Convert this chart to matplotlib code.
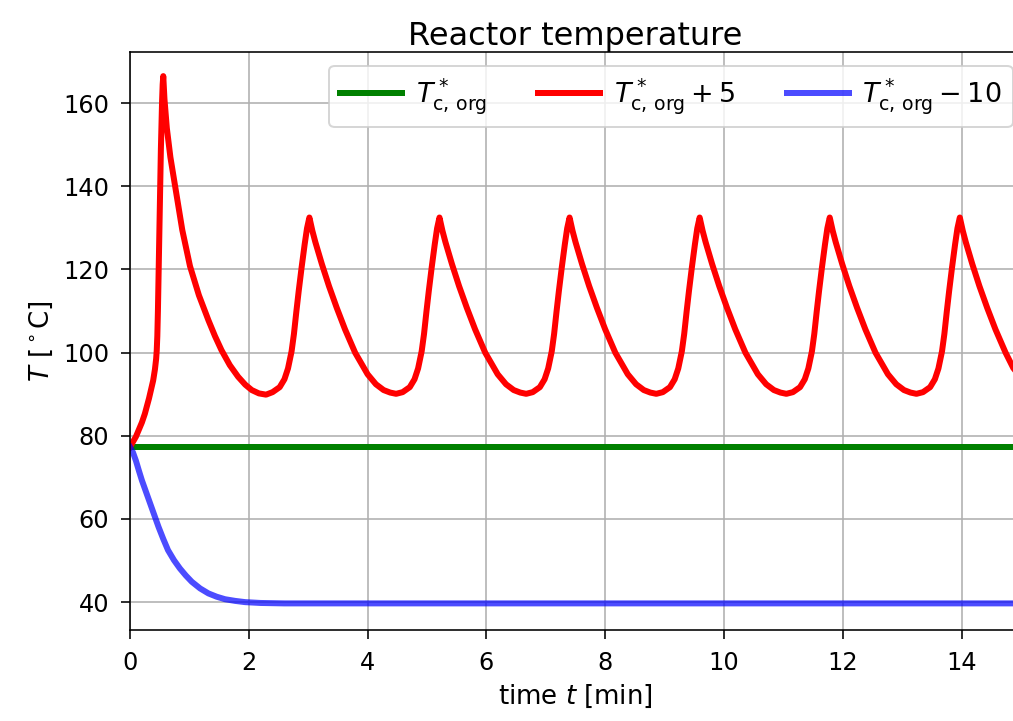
import numpy as np
import matplotlib
matplotlib.use("Agg")
from matplotlib import pyplot as plt

# data
t_red = [0.00, 0.10, 0.20, 0.25, 0.32, 0.36, 0.39, 0.42, 0.44, 0.45, 0.46, 0.47, 0.48, 0.49,
         0.50, 0.51, 0.52, 0.53, 0.54, 0.55, 0.56,
         0.58, 0.62, 0.68, 0.76, 0.88, 1.01, 1.16, 1.32, 1.43, 1.54, 1.68, 1.82, 1.94, 2.05, 2.17, 2.29,
         2.40, 2.52, 2.60, 2.66, 2.72, 2.76, 2.80, 2.84, 2.89, 2.94, 2.98, 3.02,
         3.07, 3.12, 3.23, 3.35, 3.48, 3.62, 3.79, 4.00, 4.14, 4.27, 4.38, 4.48,
         4.59, 4.71, 4.79, 4.85, 4.91, 4.95, 4.99, 5.03, 5.08, 5.13, 5.17, 5.21,
         5.26, 5.31, 5.42, 5.54, 5.67, 5.81, 5.98, 6.19, 6.33, 6.46, 6.57, 6.67,
         6.78, 6.90, 6.98, 7.04, 7.10, 7.14, 7.18, 7.22, 7.27, 7.32, 7.36, 7.40,
         7.45, 7.50, 7.61, 7.73, 7.86, 8.00, 8.17, 8.38, 8.52, 8.65, 8.76, 8.86,
         8.97, 9.09, 9.17, 9.23, 9.29, 9.33, 9.37, 9.41, 9.46, 9.51, 9.55, 9.59,
         9.64, 9.69, 9.80, 9.92, 10.05, 10.19, 10.36, 10.57, 10.71, 10.84, 10.95, 11.05,
         11.16, 11.28, 11.36, 11.42, 11.48, 11.52, 11.56, 11.60, 11.65, 11.70, 11.74, 11.78,
         11.83, 11.88, 11.99, 12.11, 12.24, 12.38, 12.55, 12.76, 12.90, 13.03, 13.14, 13.24,
         13.35, 13.47, 13.55, 13.61, 13.67, 13.71, 13.75, 13.79, 13.84, 13.89, 13.93, 13.97,
         14.02, 14.07, 14.18, 14.30, 14.43, 14.57, 14.74, 14.87, 15.00]
T_red = [77.3, 79.8, 83.2, 85.3, 89.0, 91.5, 93.3, 96.0, 98.5, 100.5, 104.0, 110.0, 118.0, 126.0,
         134.0, 142.0, 149.0, 155.0, 160.5, 164.5, 166.5,
         161.0, 154.0, 147.0, 140.0, 129.5, 120.8, 113.8, 107.8, 104.0, 100.6, 97.0, 94.2, 92.3, 91.0, 90.2, 89.9,
         90.5, 91.7, 93.6, 96.2, 100.3, 104.5, 109.8, 114.8, 120.6, 126.0, 129.9, 132.5,
         129.3, 126.6, 121.3, 116.0, 110.8, 105.6, 100.0, 94.8, 92.4, 91.0, 90.4, 90.1,
         90.5, 91.7, 93.6, 96.2, 100.3, 104.5, 109.8, 114.8, 120.6, 126.0, 129.9, 132.5,
         129.3, 126.6, 121.3, 116.0, 110.8, 105.6, 100.0, 94.8, 92.4, 91.0, 90.4, 90.1,
         90.5, 91.7, 93.6, 96.2, 100.3, 104.5, 109.8, 114.8, 120.6, 126.0, 129.9, 132.5,
         129.3, 126.6, 121.3, 116.0, 110.8, 105.6, 100.0, 94.8, 92.4, 91.0, 90.4, 90.1,
         90.5, 91.7, 93.6, 96.2, 100.3, 104.5, 109.8, 114.8, 120.6, 126.0, 129.9, 132.5,
         129.3, 126.6, 121.3, 116.0, 110.8, 105.6, 100.0, 94.8, 92.4, 91.0, 90.4, 90.1,
         90.5, 91.7, 93.6, 96.2, 100.3, 104.5, 109.8, 114.8, 120.6, 126.0, 129.9, 132.5,
         129.3, 126.6, 121.3, 116.0, 110.8, 105.6, 100.0, 94.8, 92.4, 91.0, 90.4, 90.1,
         90.5, 91.7, 93.6, 96.2, 100.3, 104.5, 109.8, 114.8, 120.6, 126.0, 129.9, 132.5,
         129.3, 126.6, 121.3, 116.0, 110.8, 105.6, 100.0, 96.3, 94.0]

t_blue = [0.00, 0.05, 0.10, 0.15, 0.20, 0.27, 0.34, 0.41, 0.48, 0.56, 0.64, 0.74, 0.84, 0.94,
          1.04, 1.18, 1.32, 1.46, 1.60, 1.77, 1.94, 2.20, 2.60, 15.00]
T_blue = [77.3, 76.0, 74.0, 71.6, 69.3, 66.5, 63.7, 60.9, 58.1, 55.2, 52.5, 50.1, 48.1, 46.4,
          44.9, 43.3, 42.1, 41.3, 40.7, 40.3, 40.0, 39.8, 39.7, 39.7]

t_green = [0.0, 15.0]
T_green = [77.3, 77.3]

labels = [r'$T^*_{\mathrm{c,\,org}}$',
          r'$T^*_{\mathrm{c,\,org}} + 5$',
          r'$T^*_{\mathrm{c,\,org}} - 10$']

fig = plt.figure(figsize=(1013/144, 721/144), dpi=144)
# right edge of the axes is cut off by the picture border, like the reference
ax = fig.add_axes([130/1013, 1 - 630/721, (1021 - 130)/1013, (630 - 52)/721])

ax.plot(t_green, T_green, color='g', lw=3, label=labels[0])
ax.plot(t_red, T_red, color='r', lw=3, label=labels[1])
ax.plot(t_blue, T_blue, color='b', alpha=0.7, lw=3, label=labels[2])

ax.set_xlim(0, 15)
ax.set_ylim(33.3, 172.3)
ax.set_yticks([40, 60, 80, 100, 120, 140, 160])
ax.set_xticks([0, 2, 4, 6, 8, 10, 12, 14])
ax.grid(True, color='#b0b0b0', lw=0.8)
ax.tick_params(labelsize=12, length=4.5, pad=6)

ax.set_title('Reactor temperature', fontsize=16, pad=3)
ax.set_xlabel('time $t$ [min]', fontsize=13)
ax.set_ylabel(r'$T$ [$^\circ$C]', fontsize=13)
ax.legend(loc='upper right', ncol=3, fontsize=13.5,
          handlelength=2.3, handletextpad=0.5, columnspacing=1.9,
          bbox_to_anchor=((1026 - 130) / (1021 - 130), 1.0))

fig.savefig('out.png', dpi=144)
